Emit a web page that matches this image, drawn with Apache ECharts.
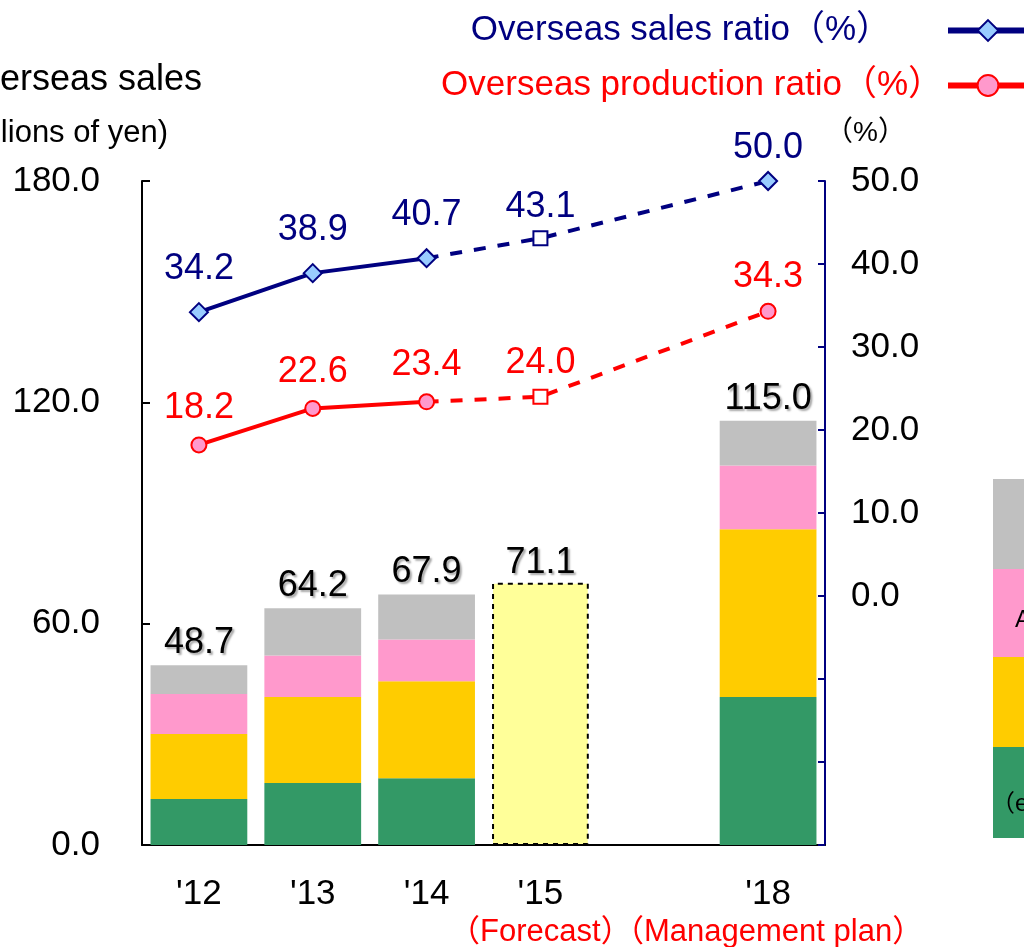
<!DOCTYPE html>
<html>
<head>
<meta charset="utf-8">
<script src="https://cdn.jsdelivr.net/npm/echarts@6/dist/echarts.min.js"></script>
<style>
  html, body { margin: 0; padding: 0; background: #fff; }
  #chart { width: 1024px; height: 947px; }
</style>
</head>
<body>
<div id="chart"></div>
<script>
// data
const years = ["'12", "'13", "'14", "'15", "", "'18"];
const yearNotes = ['', '', '', '（Forecast）', '', '（Management plan）'];
const greenPart = [12.5, 16.8, 18.1, null, null, 40.1];
const yellowPart = [17.6, 23.3, 26.3, null, null, 45.5];
const pinkPart = [10.8, 11.3, 11.3, null, null, 17.3];
const grayPart = [7.8, 12.8, 12.2, null, null, 12.1];
const forecastBar = [null, null, null, 71.1, null, null];
const salesTotal = [48.7, 64.2, 67.9, 71.1, null, 115.0];
const salesRatio = [34.2, 38.9, 40.7, null, null, null];
const salesRatioPlan = [null, null, 40.7, 43.1, null, 50.0];
const prodRatio = [18.2, 22.6, 23.4, null, null, null];
const prodRatioPlan = [null, null, 23.4, 24.0, null, 34.3];

const FONT = '"Liberation Sans", Arial, "Noto Sans CJK JP", sans-serif';
const NAVY = '#000080';
const RED = '#ff0000';
const shadowText = {
    textShadowColor: 'rgba(0,0,0,0.35)',
    textShadowOffsetX: 2,
    textShadowOffsetY: 2,
    textShadowBlur: 2
};

const chart = echarts.init(document.getElementById('chart'));

// stacked part of a bar
function part(name, data, color, withTotal) {
    const s = {
        name: name,
        type: 'bar',
        stack: 'sales',
        data: data,
        barCategoryGap: '15%',
        itemStyle: { color: color },
        label: { show: false }
    };
    if (withTotal) {
        s.label = Object.assign({
            show: true,
            position: 'top',
            distance: 4,
            color: '#000',
            fontSize: 36,
            fontFamily: FONT,
            formatter: p => salesTotal[p.dataIndex].toFixed(1)
        }, shadowText);
    }
    return s;
}

// plan (dashed) points: skip the joint point, square for forecast
function planData(values, endSymbol, fill, border) {
    return values.map((v, i) => {
        if (v == null) return null;
        if (i === 2) return { value: v, symbol: 'none' };
        if (i === 3) return { value: v, symbol: 'rect', symbolSize: 14, itemStyle: { color: '#fff', borderColor: border, borderWidth: 2 } };
        return { value: v, symbol: endSymbol, itemStyle: { color: fill, borderColor: border, borderWidth: 2 } };
    });
}

function lineLabel(color, dist) {
    return {
        show: true,
        position: 'top',
        distance: dist,
        color: color,
        fontSize: 36,
        fontFamily: FONT
    };
}

const option = {
    backgroundColor: '#ffffff',
    animation: false,
    legend: [{
        orient: 'vertical',
        right: -12,
        top: 8,
        align: 'right',
        itemWidth: 80,
        itemHeight: 26,
        lineStyle: { width: 6 },
        data: ['Overseas sales ratio（%）'],
        textStyle: { color: NAVY, fontSize: 35, fontFamily: FONT, padding: [0, 52, 0, 0] }
    }, {
        orient: 'vertical',
        right: -12,
        top: 63,
        align: 'right',
        itemWidth: 80,
        itemHeight: 26,
        lineStyle: { width: 6 },
        data: ['Overseas production ratio（%）'],
        textStyle: { color: RED, fontSize: 35, fontFamily: FONT, padding: [0, 0, 0, 0] }
    }],
    grid: { left: 142, right: 199, top: 181, bottom: 102, outerBoundsMode: 'none', containLabel: false },
    xAxis: {
        type: 'category',
        data: years,
        axisLine: { lineStyle: { color: '#000', width: 2 } },
        axisTick: { show: false },
        axisLabel: {
            interval: 0,
            margin: 30,
            color: '#000',
            fontSize: 35,
            fontFamily: FONT,
            lineHeight: 38,
            formatter: (v, i) => yearNotes[i] ? v + '\n{n|' + yearNotes[i] + '}' : v,
            rich: { n: { color: RED, fontSize: 31, fontFamily: FONT, lineHeight: 38 } }
        }
    },
    yAxis: [{
        type: 'value',
        min: 0,
        max: 180,
        interval: 60,
        splitLine: { show: false },
        axisLine: { show: true, lineStyle: { color: '#000', width: 2 } },
        axisTick: { show: true, inside: true, length: 8, lineStyle: { color: '#000', width: 2 } },
        axisLabel: { margin: 42, color: '#000', fontSize: 35, fontFamily: FONT, formatter: v => v.toFixed(1) }
    }, {
        type: 'value',
        position: 'right',
        min: -30,
        max: 50,
        interval: 10,
        name: '（%）',
        nameLocation: 'end',
        nameGap: 34,
        nameTextStyle: { color: '#000', fontSize: 28, fontFamily: FONT, align: 'left', padding: [0, 0, 0, 0] },
        splitLine: { show: false },
        axisLine: { show: true, lineStyle: { color: NAVY, width: 2 } },
        axisTick: { show: true, inside: true, length: 7, lineStyle: { color: NAVY, width: 2 } },
        axisLabel: { margin: 26, color: '#000', fontSize: 35, fontFamily: FONT, formatter: v => v >= 0 ? v.toFixed(1) : '' }
    }],
    series: [
        part('green', greenPart, '#339966', false),
        part('yellow', yellowPart, '#ffcc00', false),
        part('pink', pinkPart, '#ff99cc', false),
        part('gray', grayPart, '#c0c0c0', true),
        {
            name: 'forecast',
            type: 'bar',
            stack: 'sales',
            data: forecastBar,
            itemStyle: { color: '#ffff99', borderColor: '#000', borderWidth: 2, borderType: [5, 5] },
            label: Object.assign({
                show: true, position: 'top', distance: 2, color: '#000', fontSize: 36, fontFamily: FONT,
                formatter: p => p.value.toFixed(1)
            }, shadowText)
        },
        {
            name: 'Overseas sales ratio（%）',
            type: 'line',
            yAxisIndex: 1,
            data: salesRatio,
            symbol: 'diamond',
            symbolSize: 18,
            itemStyle: { color: '#99ccff', borderColor: NAVY, borderWidth: 2 },
            lineStyle: { color: NAVY, width: 4 },
            label: Object.assign(lineLabel(NAVY, 15), { formatter: p => p.value.toFixed(1) }),
            z: 5
        },
        {
            name: 'sales plan',
            type: 'line',
            yAxisIndex: 1,
            connectNulls: true,
            data: planData(salesRatioPlan, 'diamond', '#99ccff', NAVY),
            symbolSize: 18,
            lineStyle: { color: NAVY, width: 4, type: [12, 12] },
            label: Object.assign(lineLabel(NAVY, 5), { formatter: p => p.dataIndex === 2 ? '' : p.value.toFixed(1) }),
            z: 4
        },
        {
            name: 'Overseas production ratio（%）',
            type: 'line',
            yAxisIndex: 1,
            data: prodRatio,
            symbol: 'circle',
            symbolSize: 15,
            itemStyle: { color: '#ff99cc', borderColor: RED, borderWidth: 2 },
            lineStyle: { color: RED, width: 4 },
            label: Object.assign(lineLabel(RED, 10), { formatter: p => p.value.toFixed(1) }),
            z: 5
        },
        {
            name: 'production plan',
            type: 'line',
            yAxisIndex: 1,
            connectNulls: true,
            data: planData(prodRatioPlan, 'circle', '#ff99cc', RED),
            symbolSize: 15,
            lineStyle: { color: RED, width: 4, type: [12, 12] },
            label: Object.assign(lineLabel(RED, 8), { formatter: p => p.dataIndex === 2 ? '' : p.value.toFixed(1) }),
            z: 4
        }
    ],
    graphic: [
        { type: 'text', x: 202, y: 80, style: { text: 'Overseas sales', align: 'right', verticalAlign: 'middle', fill: '#000', font: '36px ' + FONT, shadowColor: 'rgba(0,0,0,0.35)', shadowOffsetX: 2, shadowOffsetY: 2, shadowBlur: 2 } },
        { type: 'text', x: 168, y: 133, style: { text: '(Billions of yen)', align: 'right', verticalAlign: 'middle', fill: '#000', font: '31px ' + FONT, shadowColor: 'rgba(0,0,0,0.3)', shadowOffsetX: 2, shadowOffsetY: 2, shadowBlur: 2 } },
        // cut-off segment legend at right edge
        { type: 'rect', shape: { x: 993, y: 479, width: 40, height: 90 }, style: { fill: '#c0c0c0' } },
        { type: 'rect', shape: { x: 993, y: 569, width: 40, height: 88 }, style: { fill: '#ff99cc' } },
        { type: 'rect', shape: { x: 993, y: 657, width: 40, height: 90 }, style: { fill: '#ffcc00' } },
        { type: 'rect', shape: { x: 993, y: 747, width: 40, height: 91 }, style: { fill: '#339966' } },
        { type: 'text', x: 1015, y: 620, style: { text: 'A', verticalAlign: 'middle', fill: '#000', font: '24px ' + FONT } },
        { type: 'text', x: 991, y: 804, style: { text: '（ex', verticalAlign: 'middle', fill: '#000', font: '24px ' + FONT } }
    ]
};

chart.setOption(option);
</script>
</body>
</html>
